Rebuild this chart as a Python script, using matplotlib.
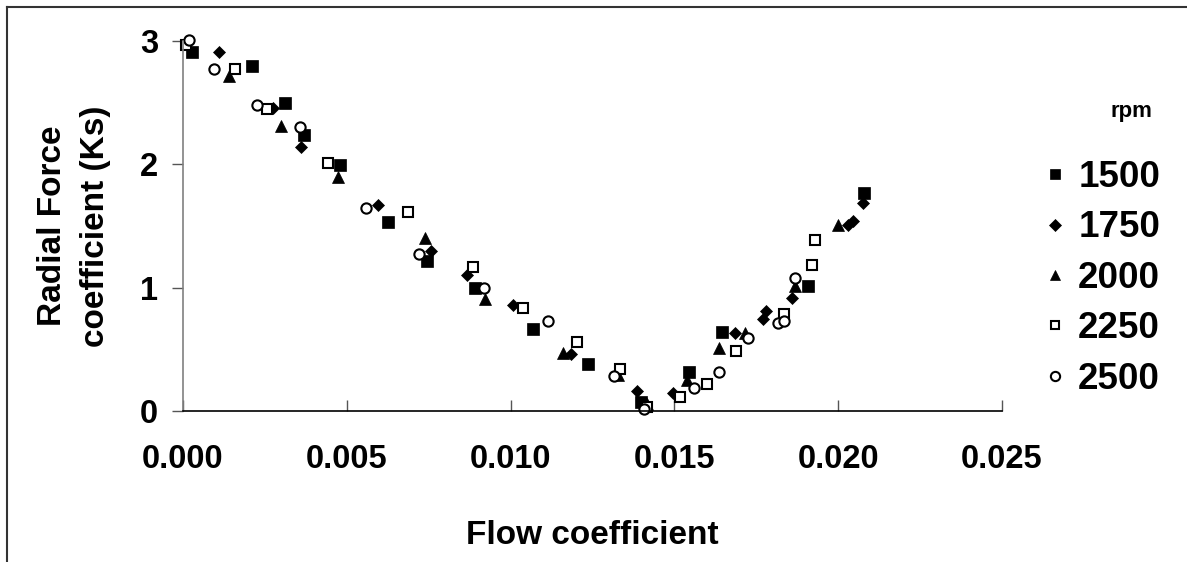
import matplotlib
matplotlib.use("Agg")
import matplotlib.pyplot as plt
from matplotlib.lines import Line2D

## DATA

x_1500 = [0.00027, 0.0021, 0.0031, 0.0037, 0.0048, 0.00626, 0.00745, 0.0089,
          0.01068, 0.01236, 0.01398, 0.01544, 0.01645, 0.01908, 0.0208]
y_1500 = [2.91, 2.80, 2.50, 2.24, 1.995, 1.53, 1.22, 1.00,
          0.665, 0.38, 0.07, 0.32, 0.64, 1.01, 1.77]

x_1750 = [0.0011, 0.00275, 0.0036, 0.00595, 0.00757, 0.00867, 0.01007, 0.01184,
          0.01386, 0.01496, 0.01685, 0.0177, 0.0178, 0.01859, 0.0203, 0.02045, 0.02075]
y_1750 = [2.91, 2.46, 2.14, 1.67, 1.30, 1.10, 0.86, 0.46,
          0.16, 0.15, 0.63, 0.75, 0.81, 0.92, 1.51, 1.54, 1.69]

x_2000 = [0.0014, 0.0030, 0.00473, 0.00739, 0.00922, 0.0116, 0.01328,
          0.01416, 0.01538, 0.01636, 0.01715, 0.01868, 0.0200]
y_2000 = [2.72, 2.31, 1.90, 1.40, 0.91, 0.47, 0.29,
          0.06, 0.25, 0.51, 0.63, 1.01, 1.51]

x_2250 = [0.0001, 0.0016, 0.00256, 0.00443, 0.00687, 0.00885, 0.01038, 0.01203,
          0.01334, 0.01416, 0.01517, 0.0160, 0.01688, 0.01835, 0.0192, 0.01929]
y_2250 = [2.97, 2.77, 2.45, 2.01, 1.61, 1.17, 0.835, 0.56,
          0.34, 0.03, 0.11, 0.22, 0.49, 0.79, 1.18, 1.39]

x_2500 = [0.00018, 0.00095, 0.00226, 0.00357, 0.0056, 0.0072, 0.00919, 0.01114,
          0.01316, 0.01407, 0.0156, 0.01636, 0.01725, 0.01816, 0.01835, 0.01868]
y_2500 = [3.01, 2.77, 2.48, 2.30, 1.65, 1.27, 1.00, 0.73,
          0.28, 0.02, 0.19, 0.32, 0.59, 0.71, 0.73, 1.08]

x_ticks = [0.000, 0.005, 0.010, 0.015, 0.020, 0.025]
x_tick_labels = ["0.000", "0.005", "0.010", "0.015", "0.020", "0.025"]
y_ticks = [0, 1, 2, 3]
y_tick_labels = ["0", "1", "2", "3"]

plt.rcParams['font.family'] = ['Liberation Sans', 'DejaVu Sans']
plt.rcParams['font.weight'] = 'bold'

W, H = 1187, 562
fig = plt.figure(figsize=(W / 100, H / 100), dpi=100)
ax = fig.add_axes([183 / W, 1 - 411 / H, 819 / W, 370 / H])

# series: (x, y, marker, size, face, label)
series = [
    (x_1500, y_1500, 's', 8.0, 'black', '1500'),
    (x_1750, y_1750, 'D', 6.5, 'black', '1750'),
    (x_2000, y_2000, '^', 8.5, 'black', '2000'),
    (x_2250, y_2250, 's', 6.8, 'white', '2250'),
    (x_2500, y_2500, 'o', 7.4, 'white', '2500'),
]
handles = []
for xs, ys, m, ms, fc, lab in series:
    ew = 1.5 if fc == 'white' else 0.5
    h, = ax.plot(xs, ys, linestyle='none', marker=m, markersize=ms,
                 markerfacecolor=fc, markeredgecolor='black', markeredgewidth=ew,
                 clip_on=False, label=lab)
    handles.append(h)

ax.set_xlim(0, 0.025)
ax.set_ylim(0, 3)
ax.set_xticks(x_ticks)
ax.set_xticklabels(x_tick_labels)
ax.set_yticks(y_ticks)
ax.set_yticklabels(y_tick_labels)

ax.spines['top'].set_visible(False)
ax.spines['right'].set_visible(False)
ax.spines['left'].set_color('#808080')
ax.spines['left'].set_linewidth(1.2)
ax.spines['bottom'].set_linewidth(1.2)
ax.tick_params(axis='x', direction='in', length=8, width=1, color='#555555',
               labelsize=23.5, pad=24)
ax.tick_params(axis='y', direction='out', length=8, width=1, color='#555555',
               labelsize=23.5, pad=10)

ax.set_xlabel("Flow coefficient", fontsize=24, fontweight='bold', labelpad=32)
fig.text(74 / W, 1 - 226 / H, "Radial Force\ncoefficient (Ks)", rotation=90,
         ha='center', va='center', fontsize=24, fontweight='bold', linespacing=1.5)

# legend
leg = fig.legend(handles=handles, loc='upper left',
                 bbox_to_anchor=(1044 / W, 1 - 160 / H), frameon=False,
                 fontsize=26.5, handlelength=0.6, handletextpad=0.33,
                 labelspacing=0.42, borderpad=0, borderaxespad=0, markerscale=0.9)
fig.text(1131 / W, 1 - 112 / H, "rpm", ha='center', va='center',
         fontsize=16, fontweight='bold')

# partial outer frame
fig.add_artist(Line2D([7 / W, 7 / W], [0, 1 - 7 / H], transform=fig.transFigure,
                      color='#333333', linewidth=1.5))
fig.add_artist(Line2D([7 / W, 1], [1 - 7 / H, 1 - 7 / H], transform=fig.transFigure,
                      color='#333333', linewidth=1.5))

fig.savefig("out.png", dpi=100)
